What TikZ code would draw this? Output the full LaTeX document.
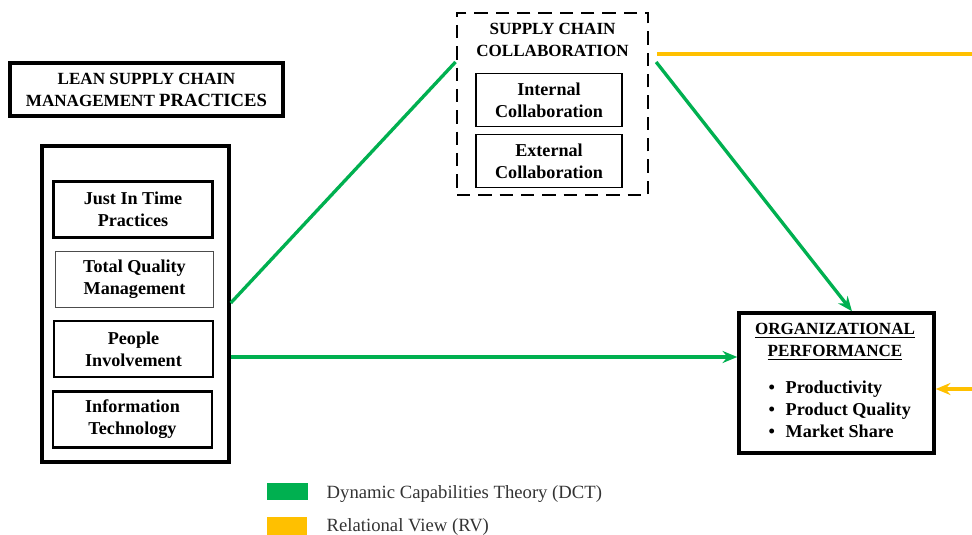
\documentclass[tikz,border=0pt]{standalone}
\usepackage{fontspec}
\setmainfont{Liberation Serif}
\usetikzlibrary{arrows.meta}
\definecolor{dctgreen}{HTML}{00B050}
\definecolor{rvorange}{HTML}{FFC000}
\newcommand\headfont{\fontsize{12.8}{16.5}\selectfont\bfseries}
\newcommand\boxfont{\fontsize{13.6}{16.5}\selectfont\bfseries}
\newcommand\keyfont{\fontsize{14}{16}\selectfont}

\begin{document}
\begin{tikzpicture}[x=0.75pt,y=-0.75pt,
  bigbox/.style={draw,line width=2.6pt,inner sep=0pt},
  itembox/.style={draw,line width=1.8pt,minimum width=119pt,minimum height=42pt,align=center,font=\boxfont,inner sep=0pt},
  collabbox/.style={draw,line width=1.2pt,minimum width=109.5pt,minimum height=39.5pt,align=center,font=\boxfont,inner sep=0pt},
  dct/.style={draw=dctgreen,line width=2.5pt},
  rv/.style={draw=rvorange,line width=2.5pt},
  keybox/.style={inner sep=0pt,minimum width=30.5pt}]
  \useasboundingbox (0,0) rectangle (972,535);

  % lean practices
  \node[bigbox,minimum width=204.75pt,minimum height=39.75pt,align=center,font=\headfont] (lean) at (146.5,89.5)
    {LEAN SUPPLY CHAIN\\MANAGEMENT {\fontsize{14}{16.5}\selectfont PRACTICES}};
  \node[bigbox,minimum width=140.25pt,minimum height=237pt] (lscm) at (135.5,304) {};
  \node[itembox] (jit) at (133,209.5) {Just In Time\\Practices};
  \node[itembox,line width=0.7pt,draw=black!70] (tqm) at (134.5,279) {Total Quality\\Management};
  \node[itembox] (pi) at (133.5,349) {People\\Involvement};
  \node[itembox] (it) at (132.5,419.5) {Information\\Technology};

  % supply chain collaboration
  \node[draw,line width=2.2pt,dash pattern=on 10pt off 6pt,minimum width=143.25pt,minimum height=136.5pt] (scc) at (552.5,104) {};
  \node[font=\headfont,align=center] (scctitle) at (552.5,40) {SUPPLY CHAIN\\COLLABORATION};
  \node[collabbox] (intc) at (549,100) {Internal\\Collaboration};
  \node[collabbox] (extc) at (549,161) {External\\Collaboration};

  % performance
  \node[bigbox,minimum width=146.25pt,minimum height=105pt] (op) at (836.5,383) {};
  \node[font=\headfont,align=center] (optitle) at (835,341.5) {\underline{ORGANIZATIONAL}\\\underline{PERFORMANCE}};
  \node[font=\boxfont,align=left,anchor=west] (oplist) at (764,409.5)
    {\textbullet\hspace{8pt}Productivity\\\textbullet\hspace{8pt}Product Quality\\\textbullet\hspace{8pt}Market Share};

  % links
  \coordinate (piout) at ([yshift=-39.75pt]lscm.east);
  \coordinate (rvout) at (972,54);
  \coordinate (rvin) at (972,389);
  \draw[dct] ([yshift=0.75pt]lscm.east) -- ([yshift=31.5pt]scc.west);
  \draw[dct,-{Stealth[length=11pt,width=9pt]}] ([xshift=5pt,yshift=31.5pt]scc.east) -- ([xshift=11.6pt]op.north);
  \draw[dct,-{Stealth[length=11pt,width=9pt]}] (piout) -- (piout -| op.west);
  \draw[rv] ([xshift=6pt,yshift=37.5pt]scc.east) -- (rvout);
  \draw[rv,-{Stealth[length=11pt,width=9pt]}] (rvin) -- (rvin -| op.east);

  % legend
  \node[keybox,fill=dctgreen,minimum height=12.75pt] (dctkey) at (287.5,491.5) {};
  \node[keybox,fill=rvorange,minimum height=13.5pt] (rvkey) at (287,526) {};
  \node[anchor=west,font=\keyfont,text=black!80] (dcttext) at (322,494) {Dynamic Capabilities Theory (DCT)};
  \node[anchor=west,font=\keyfont,text=black!80] (rvtext) at (322,527) {Relational View (RV)};
\end{tikzpicture}
\end{document}
